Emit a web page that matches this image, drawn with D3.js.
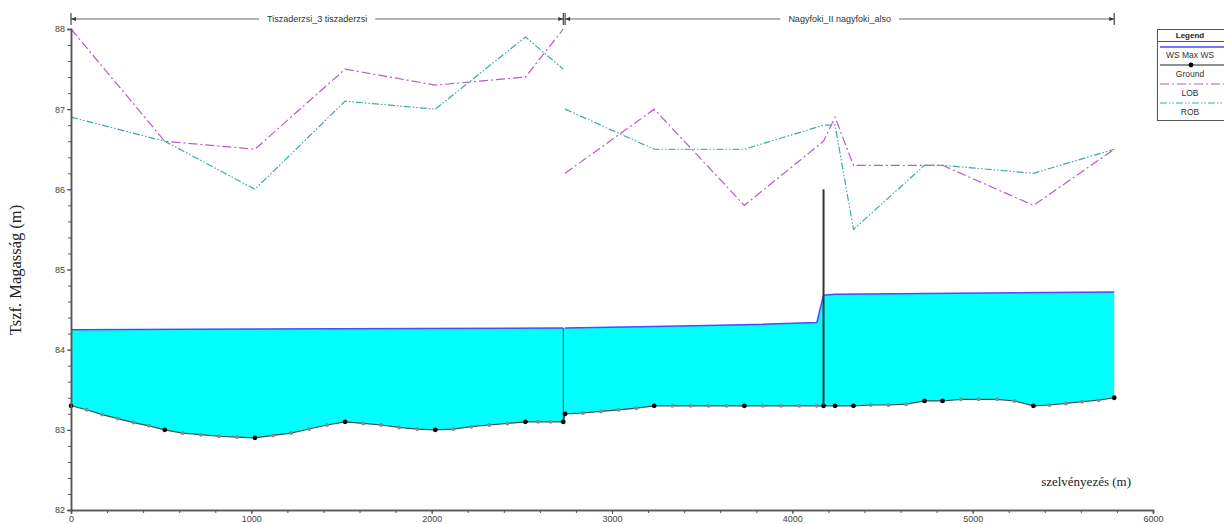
<!DOCTYPE html>
<html><head><meta charset="utf-8">
<script src="https://cdn.jsdelivr.net/npm/d3@7"></script>
<style>body{margin:0;background:#fff}svg{display:block}</style>
</head><body>
<svg id="c" width="1224" height="524"></svg>
<script>
// ---------- data ----------
const xTicks = [0, 1000, 2000, 3000, 4000, 5000, 6000];
const xTickLabels = ["0", "1000", "2000", "3000", "4000", "5000", "6000"];
const yTicks = [82, 83, 84, 85, 86, 87, 88];
const reachNames = ["Tiszaderzsi_3 tiszaderzsi", "Nagyfoki_II nagyfoki_also"];
const reachSpans = [[0, 2730], [2740, 5785]];

// ground profile [station, elevation]
const ground1 = [[0,83.30],[87,83.25],[173,83.19],[260,83.14],[347,83.09],[433,83.05],[520,83.00],
  [620,82.96],[720,82.94],[820,82.92],[920,82.91],[1020,82.90],[1120,82.93],[1220,82.96],[1320,83.01],
  [1420,83.06],[1520,83.10],[1620,83.08],[1720,83.06],[1820,83.03],[1920,83.01],[2020,83.00],[2120,83.01],
  [2220,83.04],[2320,83.06],[2420,83.08],[2520,83.10],[2590,83.10],[2660,83.10],[2730,83.10]];
const ground2 = [[2740,83.20],[2839,83.21],[2938,83.23],[3036,83.25],[3135,83.27],[3234,83.30],[3335,83.30],
  [3435,83.30],[3535,83.30],[3635,83.30],[3734,83.30],[3836,83.30],[3936,83.30],[4038,83.30],[4136,83.30],
  [4173,83.30],[4237,83.30],[4339,83.30],[4435,83.31],[4533,83.31],[4631,83.32],[4733,83.36],[4833,83.36],
  [4935,83.38],[5033,83.38],[5135,83.38],[5232,83.36],[5337,83.30],[5426,83.31],[5517,83.33],[5606,83.35],
  [5698,83.37],[5785,83.40]];
// surveyed (non-interpolated) cross sections
const surveyed = [0, 520, 1020, 1520, 2020, 2520, 2730, 2740, 3234, 3734, 4173, 4237, 4339, 4733, 4833, 5337, 5785];

// water surface [station, elevation]
const ws1 = [[0,84.25],[2730,84.27]];
const ws2 = [[2740,84.27],[3234,84.29],[3734,84.31],[4136,84.34],[4173,84.68],[4237,84.69],[5785,84.72]];

// bank stations
const lob1 = [[0,88.0],[520,86.6],[1020,86.5],[1520,87.5],[2020,87.3],[2520,87.4],[2730,88.0]];
const rob1 = [[0,86.9],[520,86.6],[1020,86.0],[1520,87.1],[2020,87.0],[2520,87.9],[2730,87.5]];
const lob2 = [[2740,86.2],[3234,87.0],[3734,85.8],[4173,86.6],[4237,86.9],[4339,86.3],[4733,86.3],[4833,86.3],[5337,85.8],[5785,86.5]];
const rob2 = [[2740,87.0],[3234,86.5],[3734,86.5],[4173,86.8],[4237,86.8],[4339,85.5],[4733,86.3],[4833,86.3],[5337,86.2],[5785,86.5]];

// structure (inline weir / bridge)
const structStation = 4173;
const structTop = 86.0;
const structBottom = 83.30;

const legendItems = ["WS  Max WS", "Ground", "LOB", "ROB"];

// ---------- drawing ----------
const svg = d3.select("#c");
const x = d3.scaleLinear().domain([0, 6000]).range([71, 1153]);
const y = d3.scaleLinear().domain([82, 88]).range([510, 29]);

const line = d3.line().x(d => x(d[0])).y(d => y(d[1]));

// water fill
const last1 = ground1.length - 1;
const junction = [ws1[ws1.length-1], ws2[0], ground2[0], ground1[last1]];
[[ws1, ground1], [ws2, ground2]].forEach(([w, g]) => {
  const poly = w.concat(g.slice().reverse());
  svg.append("path").attr("d", line(poly) + "Z").attr("fill", "#00FFFF").attr("stroke", "none");
});
svg.append("path").attr("d", line(junction) + "Z").attr("fill", "#00FFFF").attr("stroke", "#00FFFF").attr("stroke-width", 0.6);

// reach boundary vertical at end of reach 1
svg.append("line").attr("x1", x(2730)).attr("x2", x(2730))
  .attr("y1", y(ws1[ws1.length-1][1])).attr("y2", y(ground1[last1][1]))
  .attr("stroke", "#1f4f4f").attr("stroke-width", 1);

// WS lines
[ws1, ws2].forEach(w => svg.append("path").attr("d", line(w)).attr("fill", "none")
  .attr("stroke", "#4a4aff").attr("stroke-width", 1.5));

// ground lines
[ground1, ground2].forEach(g => svg.append("path").attr("d", line(g)).attr("fill", "none")
  .attr("stroke", "#3d4f4f").attr("stroke-width", 1.2));
svg.append("path").attr("d", line([ground1[last1], ground2[0]])).attr("fill", "none")
  .attr("stroke", "#3d4f4f").attr("stroke-width", 1.2);

// ground points
const allGround = ground1.concat(ground2);
svg.append("g").selectAll("circle").data(allGround.filter(d => !surveyed.includes(d[0]))).join("circle")
  .attr("cx", d => x(d[0])).attr("cy", d => y(d[1])).attr("r", 2).attr("fill", "#8a8a8a");
svg.append("g").selectAll("circle").data(allGround.filter(d => surveyed.includes(d[0]))).join("circle")
  .attr("cx", d => x(d[0])).attr("cy", d => y(d[1])).attr("r", 2.4).attr("fill", "#000");

// structure
svg.append("line").attr("x1", x(structStation)).attr("x2", x(structStation))
  .attr("y1", y(structTop)).attr("y2", y(structBottom))
  .attr("stroke", "#333", ).attr("stroke-width", 2);

// bank lines
const lobStyle = {c: "#b45ec8", dash: "9,3,2,3"};
const robStyle = {c: "#3aa9a9", dash: "7,2,1.5,2,1.5,2"};
[lob1, lob2].forEach(d => svg.append("path").attr("d", line(d)).attr("fill", "none")
  .attr("stroke", lobStyle.c).attr("stroke-width", 1.2).attr("stroke-dasharray", lobStyle.dash));
[rob1, rob2].forEach(d => svg.append("path").attr("d", line(d)).attr("fill", "none")
  .attr("stroke", robStyle.c).attr("stroke-width", 1.2).attr("stroke-dasharray", robStyle.dash));

// axes
const axisColor = "#555";
function styleAxis(g) {
  g.selectAll("path.domain").attr("stroke", axisColor).attr("stroke-width", 1.5);
  g.selectAll(".tick line").attr("stroke", axisColor);
  g.selectAll(".tick text").attr("fill", "#444").attr("font-family", "Arial, 'Liberation Sans', sans-serif").attr("font-size", 9);
}
const yMinor = d3.range(82, 88.001, 0.2);
svg.append("g").attr("transform", "translate(71,0)")
  .call(d3.axisLeft(y).tickValues(yMinor).tickSize(3).tickFormat(""))
  .call(styleAxis);
svg.append("g").attr("transform", "translate(71,0)")
  .call(d3.axisLeft(y).tickValues(yTicks).tickSize(4).tickPadding(2).tickFormat(d3.format("d")))
  .call(styleAxis);
const xMinor = d3.range(0, 6001, 200);
svg.append("g").attr("transform", "translate(0,510)")
  .call(d3.axisBottom(x).tickValues(xMinor).tickSize(3).tickFormat(""))
  .call(styleAxis);
svg.append("g").attr("transform", "translate(0,510)")
  .call(d3.axisBottom(x).tickValues(xTicks).tickSize(4).tickPadding(2).tickFormat((d, i) => xTickLabels[i]))
  .call(styleAxis);

// axis titles
svg.append("text").attr("transform", "translate(21,270) rotate(-90)").attr("text-anchor", "middle")
  .attr("font-family", "'Liberation Serif', 'Times New Roman', serif").attr("font-size", 16.5).attr("fill", "#222")
  .text("Tszf. Magasság (m)");
svg.append("text").attr("x", 1131).attr("y", 486).attr("text-anchor", "end")
  .attr("font-family", "'Liberation Serif', 'Times New Roman', serif").attr("font-size", 13).attr("fill", "#222")
  .text("szelvényezés (m)");

// reach header
const hy = 19;
reachSpans.forEach((s, i) => {
  const x0 = x(s[0]), x1 = x(s[1]), cx = (x0 + x1) / 2;
  const t = svg.append("text").attr("x", cx).attr("y", hy + 3).attr("text-anchor", "middle")
    .attr("font-family", "Arial, 'Liberation Sans', sans-serif").attr("font-size", 9).attr("fill", "#333")
    .text(reachNames[i]);
  const w = t.node().getComputedTextLength();
  svg.append("line").attr("x1", x0).attr("x2", cx - w/2 - 8).attr("y1", hy).attr("y2", hy).attr("stroke", "#666");
  svg.append("line").attr("x1", cx + w/2 + 8).attr("x2", x1).attr("y1", hy).attr("y2", hy).attr("stroke", "#666");
  [x0, x1].forEach((xx, j) => {
    svg.append("line").attr("x1", xx).attr("x2", xx).attr("y1", hy - 6).attr("y2", hy + 6).attr("stroke", "#444").attr("stroke-width", 1.2);
    const dir = j === 0 ? 1 : -1;
    svg.append("path").attr("d", `M${xx},${hy}L${xx + dir*5},${hy-2}L${xx + dir*5},${hy+2}Z`).attr("fill", "#333");
  });
});

// legend
const lg = svg.append("g");
lg.append("rect").attr("x", 1157.5).attr("y", 29.5).attr("width", 80).attr("height", 91)
  .attr("fill", "#fff").attr("stroke", "#555");
lg.append("line").attr("x1", 1157.5).attr("x2", 1240).attr("y1", 41.5).attr("y2", 41.5).attr("stroke", "#555");
const lf = "Arial, 'Liberation Sans', sans-serif";
lg.append("text").attr("x", 1190).attr("y", 38).attr("text-anchor", "middle").attr("font-family", lf)
  .attr("font-size", 8).attr("font-weight", "bold").attr("fill", "#222").text("Legend");
const rowY = [47, 65, 84, 103];
const textY = [58, 77, 96, 115];
lg.append("line").attr("x1", 1160).attr("x2", 1224).attr("y1", rowY[0]).attr("y2", rowY[0]).attr("stroke", "#4a4aff").attr("stroke-width", 1.5);
lg.append("line").attr("x1", 1160).attr("x2", 1224).attr("y1", rowY[1]).attr("y2", rowY[1]).attr("stroke", "#222").attr("stroke-width", 1);
lg.append("circle").attr("cx", 1191).attr("cy", rowY[1]).attr("r", 2.4).attr("fill", "#000");
lg.append("line").attr("x1", 1160).attr("x2", 1224).attr("y1", rowY[2]).attr("y2", rowY[2]).attr("stroke", lobStyle.c).attr("stroke-width", 1.2).attr("stroke-dasharray", lobStyle.dash);
lg.append("line").attr("x1", 1160).attr("x2", 1224).attr("y1", rowY[3]).attr("y2", rowY[3]).attr("stroke", robStyle.c).attr("stroke-width", 1.2).attr("stroke-dasharray", robStyle.dash);
legendItems.forEach((t, i) => lg.append("text").attr("x", 1190).attr("y", textY[i]).attr("text-anchor", "middle")
  .attr("font-family", lf).attr("font-size", 8.5).attr("fill", "#333").text(t));
</script>
</body></html>
